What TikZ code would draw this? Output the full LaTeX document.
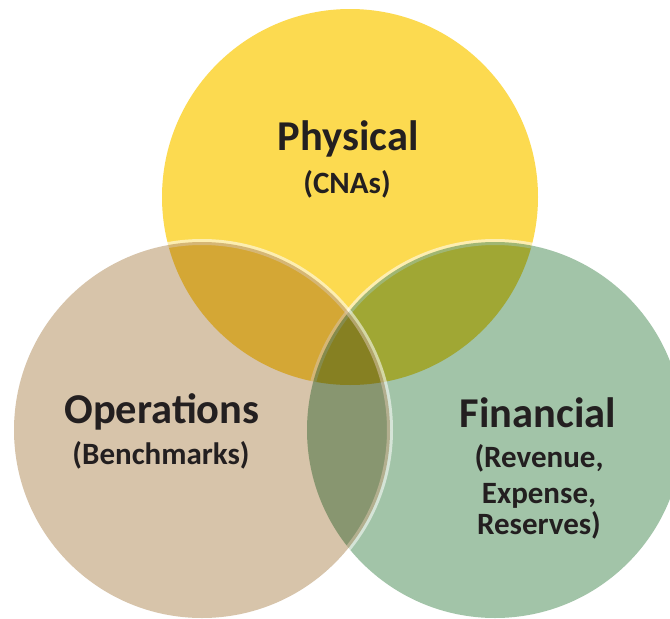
\documentclass[tikz,border=0pt]{standalone}
\usepackage{fontspec}
\setmainfont{Carlito}
\usepackage{tikz}
\definecolor{physfill}{RGB}{252,218,80}
\definecolor{finfill}{RGB}{162,196,168}
\definecolor{opsfill}{RGB}{215,196,170}
\definecolor{ink}{RGB}{35,31,32}
\tikzstyle{disc}=[circle,minimum size=376pt,inner sep=0pt]
\tikzstyle{rim}=[draw=white,line width=6pt]
\tikzstyle{title}=[anchor=base,text=ink,font=\fontsize{42.5}{46}\selectfont\bfseries]
\tikzstyle{sub}=[anchor=base,text=ink,font=\fontsize{31}{34}\selectfont\bfseries]

\begin{document}
\begin{tikzpicture}[x=1pt,y=-1pt]
    \fill[white] (0,0) rectangle (670,619);
    \clip (0,0) rectangle (670,619);
	% draw the discs, each one laid over its light rim
	\foreach \pos/\name/\col/\op in {{(350,197)/phys/physfill/0}, {(495,430)/fin/finfill/0.55},
	                                 {(202,430)/ops/opsfill/0.55}}
	{
	    \node[disc,rim,draw opacity=\op] (\name rim) at \pos {};
	    \node[disc,fill=\col,blend mode=multiply] (\name) at \pos {};
	}
	% titles and what they stand for
	\node[title] (physT) at (348,150) {Physical};
	\node[sub] (physS) at (347,193) {(CNAs)};
	\node[title] (opsT) at (162,423) {Operations};
	\node[sub] (opsS) at (161,464) {(Benchmarks)};
	\node[title] (finT) at (538,427) {Financial};
	\foreach \y/\name/\txt in {467/rev/{(Revenue,}, 503/exp/{Expense,}, 534/res/{Reserves)}}
	    \node[sub] (\name) at (539,\y) {\txt};
\end{tikzpicture}
\end{document}
